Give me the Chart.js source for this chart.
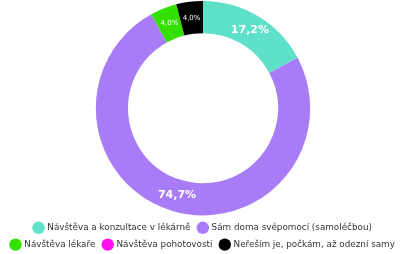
<!DOCTYPE html>
<html>
<head>
<meta charset="utf-8">
<script src="https://cdn.jsdelivr.net/npm/chart.js@4/dist/chart.umd.min.js"></script>
<style>
  html, body { margin: 0; padding: 0; background: #fff; }
  #wrap { width: 406px; height: 254px; }
</style>
</head>
<body>
<div id="wrap"><canvas id="graf"></canvas></div>
<script>
const kategorie = [
    'Návštěva a konzultace v lékárně',
    'Sám doma svépomocí (samoléčbou)',
    'Návštěva lékaře',
    'Návštěva pohotovosti',
    'Neřeším je, počkám, až odezní samy'
];
const procenta = [17.2, 74.7, 4.0, 0, 4.0];
const barvy = ['#5fe0c8', '#a87cf7', '#33e000', '#ff10f0', '#000000'];

// popisky procent uvnitř prstence
const popisky = {
    id: 'popisky',
    afterDatasetsDraw(chart) {
        const ctx = chart.ctx;
        const meta = chart.getDatasetMeta(0);
        ctx.save();
        ctx.fillStyle = '#fff';
        ctx.textAlign = 'center';
        ctx.textBaseline = 'middle';
        meta.data.forEach(function (arc, i) {
            const v = procenta[i];
            if (!v) return;
            const p = arc.tooltipPosition();
            ctx.font = v < 5 ? '7px "DejaVu Sans"' : 'bold 11px "DejaVu Sans"';
            ctx.fillText(v.toFixed(1).replace('.', ',') + '%', p.x, p.y);
        });
        ctx.restore();
    }
};

new Chart(document.getElementById('graf'), {
    type: 'doughnut',
    data: {
        labels: kategorie,
        datasets: [{
            data: procenta,
            backgroundColor: barvy,
            borderWidth: 0
        }]
    },
    plugins: [popisky],
    options: {
        responsive: true,
        maintainAspectRatio: false,
        animation: false,
        cutout: '70%',
        layout: { padding: { top: 1, bottom: -5 } },
        plugins: {
            tooltip: { enabled: false },
            legend: {
                position: 'bottom',
                labels: {
                    usePointStyle: true,
                    pointStyle: 'circle',
                    boxWidth: 9,
                    boxHeight: 9,
                    padding: 8,
                    color: '#333',
                    font: { family: 'DejaVu Sans', size: 8.8 }
                }
            }
        }
    }
});
</script>
</body>
</html>
